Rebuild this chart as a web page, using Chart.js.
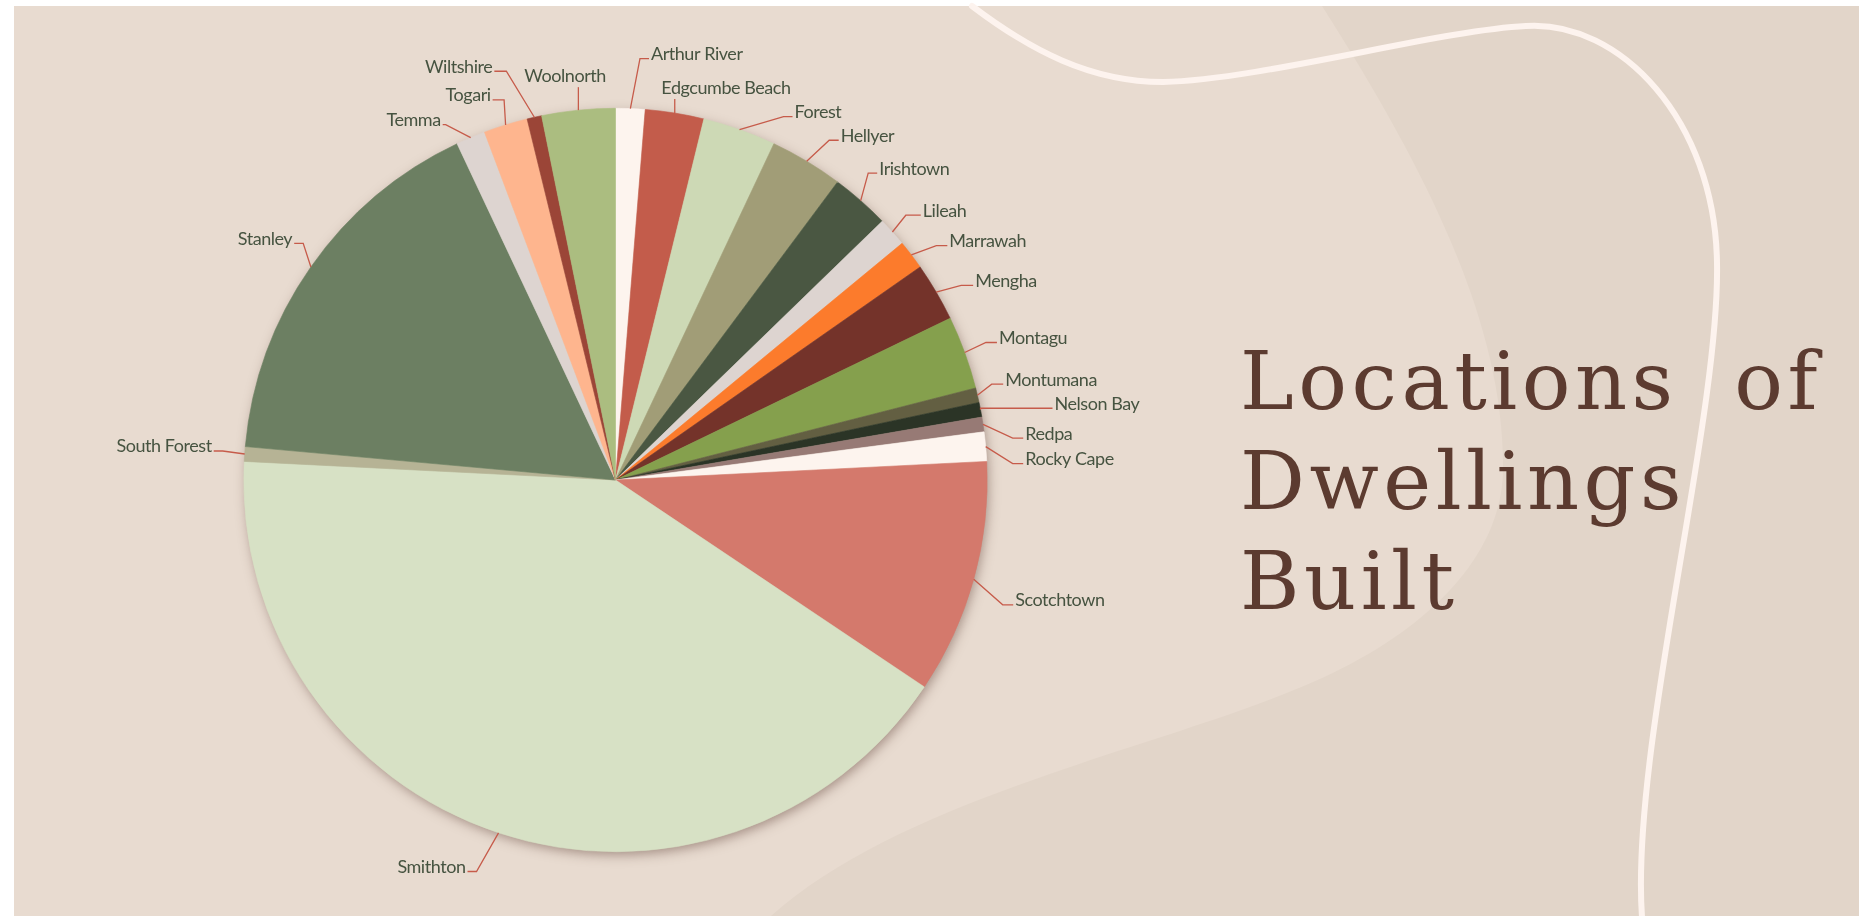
<!DOCTYPE html>
<html>
<head>
<meta charset="utf-8">
<title>Locations of Dwellings Built</title>
<script src="https://cdn.jsdelivr.net/npm/chart.js@4.4.1/dist/chart.umd.min.js"></script>
<style>
  html, body { margin: 0; padding: 0; background: #ffffff; }
  #stage { position: absolute; left: 0; top: 0; width: 1859px; height: 916px; overflow: hidden; }
  #backdrop, #pie { position: absolute; left: 0; top: 0; }
  #heading {
    position: absolute; left: 1240px; top: 331px; width: 582px;
    font-family: "DejaVu Serif", serif; font-size: 81px; line-height: 100px;
    color: #5c3b30; letter-spacing: 4.5px; white-space: nowrap;
  }
  #heading .row { display: flex; justify-content: space-between; }
</style>
</head>
<body>
<div id="stage">
  <svg id="backdrop" width="1859" height="916" viewBox="0 0 1859 916">
    <rect x="14" y="6" width="1845" height="910" fill="#e8dbd0"/>
    <path d="M1322,6 C1420,160 1505,320 1503,470 C1502,560 1420,640 1294,690 C1150,750 900,800 771,916 L1859,916 L1859,6 Z" fill="#e2d5c9"/>
    <path d="M972,6 C1030,50 1090,82 1163,82 C1260,80 1440,30 1526,26 C1620,20 1715,120 1717,263 C1720,420 1630,750 1642,917"
          fill="none" stroke="#fdf3ee" stroke-width="6" stroke-linecap="round"/>
  </svg>
  <canvas id="pie" width="1859" height="916"></canvas>
  <div id="heading">
    <div class="row"><span>Locations</span><span>of</span></div>
    <div class="row"><span>Dwellings</span></div>
    <div class="row"><span>Built</span></div>
  </div>
</div>
<script>
// Dwellings built per locality
const places = ['Arthur River', 'Edgcumbe Beach', 'Forest', 'Hellyer', 'Irishtown', 'Lileah',
  'Marrawah', 'Mengha', 'Montagu', 'Montumana', 'Nelson Bay', 'Redpa', 'Rocky Cape',
  'Scotchtown', 'Smithton', 'South Forest', 'Stanley', 'Temma', 'Togari', 'Wiltshire', 'Woolnorth'];
const dwellings = [2, 4, 5, 5, 4, 2, 2, 4, 5, 1, 1, 1, 2, 16, 65, 1, 26, 2, 3, 1, 5];
const sliceColors = ['#fdf4ee', '#c35c4b', '#cdd9b5', '#a19d77', '#4a5742', '#ddd4d0',
  '#fc7b2c', '#74332a', '#85a04d', '#635f42', '#2b3426', '#977a75', '#fdf4ee',
  '#d4796c', '#d7e1c5', '#b6b395', '#6c7f62', '#ddd4d0', '#feb58e', '#9b4537', '#abbd80'];

// Leader-line elbow offsets from the rim point [dx, dy, horizontal run]; 'up' labels sit above a vertical leader
const leaderLayout = {
  'Arthur River':   { d: [9.6, -50], run: 9 },
  'Edgcumbe Beach': { d: [0, -14], up: -13.4 },
  'Forest':         { d: [44, -13], run: 9 },
  'Hellyer':        { d: [22.5, -21], run: 9.5 },
  'Irishtown':      { d: [7.5, -27.6], run: 9 },
  'Lileah':         { d: [13.4, -16.8], run: 15 },
  'Marrawah':       { d: [25, -9.4], run: 11 },
  'Mengha':         { d: [25, -6.7], run: 12 },
  'Montagu':        { d: [21.3, -10], run: 11 },
  'Montumana':      { d: [14.3, -11], run: 11.5 },
  'Nelson Bay':     { d: [0, -1.5], run: 72 },
  'Redpa':          { d: [29.7, 13.7], run: 10.5 },
  'Rocky Cape':     { d: [27, 17], run: 10.5 },
  'Scotchtown':     { d: [29, 25.6], run: 10.5 },
  'Smithton':       { d: [-22, 38.7], run: 9 },
  'South Forest':   { d: [-22, -3], run: 9 },
  'Stanley':        { d: [-7.7, -23.6], run: 9 },
  'Temma':          { d: [-25, -13], run: 3 },
  'Togari':         { d: [-1.5, -25], run: 11.5 },
  'Wiltshire':      { d: [-28, -46], run: 12 },
  'Woolnorth':      { d: [0, -23], up: -54 }
};

// Soft drop shadow under the whole pie
const pieShadow = {
  id: 'pieShadow',
  beforeDatasetsDraw(chart) {
    const arcs = chart.getDatasetMeta(0).data;
    if (!arcs.length) return;
    const { x, y, outerRadius } = arcs[0].getProps(['x', 'y', 'outerRadius'], true);
    const ctx = chart.ctx;
    ctx.save();
    ctx.shadowColor = 'rgba(95, 65, 55, 0.5)';
    ctx.shadowBlur = 12;
    ctx.shadowOffsetX = 2;
    ctx.shadowOffsetY = 4;
    ctx.beginPath();
    ctx.arc(x, y, outerRadius - 1, 0, Math.PI * 2);
    ctx.fillStyle = '#d7e1c5';
    ctx.fill();
    ctx.restore();
  }
};

// Outside category labels with elbow leader lines
const outsideLabels = {
  id: 'outsideLabels',
  afterDatasetsDraw(chart) {
    const ctx = chart.ctx;
    const arcs = chart.getDatasetMeta(0).data;
    ctx.save();
    ctx.font = '18px Lato, "Open Sans", sans-serif';
    if ('letterSpacing' in ctx) ctx.letterSpacing = '-0.45px';
    ctx.fillStyle = '#465340';
    ctx.strokeStyle = '#c65b4a';
    ctx.lineWidth = 1.3;
    ctx.textBaseline = 'alphabetic';
    arcs.forEach((arc, i) => {
      const name = chart.data.labels[i];
      const lay = leaderLayout[name];
      const p = arc.getProps(['x', 'y', 'startAngle', 'endAngle', 'outerRadius'], true);
      const mid = (p.startAngle + p.endAngle) / 2;
      const rx = p.x + Math.cos(mid) * p.outerRadius;
      const ry = p.y + Math.sin(mid) * p.outerRadius;
      const ex = rx + lay.d[0];
      const ey = ry + lay.d[1];
      ctx.beginPath();
      ctx.moveTo(rx, ry);
      ctx.lineTo(ex, ey);
      if (lay.up !== undefined) {
        ctx.stroke();
        ctx.textAlign = 'left';
        ctx.fillText(name, ex + lay.up, ey - 5.5);
        return;
      }
      const right = lay.d[0] >= 0;
      const hx = right ? ex + lay.run : ex - lay.run;
      ctx.lineTo(hx, ey);
      ctx.stroke();
      ctx.textAlign = right ? 'left' : 'right';
      ctx.fillText(name, right ? hx + 2 : hx - 2, ey + 1.5);
    });
    ctx.restore();
  }
};

new Chart(document.getElementById('pie'), {
  type: 'pie',
  data: {
    labels: places,
    datasets: [{
      data: dwellings,
      backgroundColor: sliceColors,
      borderColor: sliceColors,
      borderWidth: 0.6
    }]
  },
  options: {
    responsive: false,
    animation: false,
    layout: { padding: { left: 243, right: 871, top: 108, bottom: 64 } },
    plugins: {
      legend: { display: false },
      title: { display: false },
      tooltip: { enabled: false }
    }
  },
  plugins: [pieShadow, outsideLabels]
});
</script>
</body>
</html>
